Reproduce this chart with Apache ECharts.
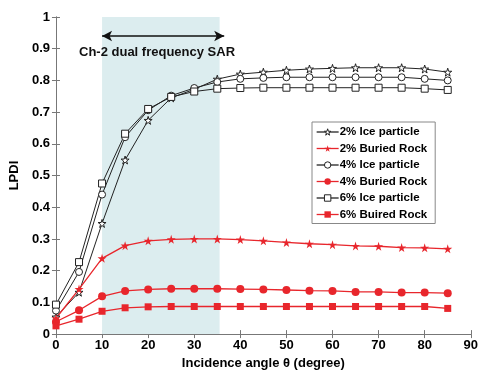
<!DOCTYPE html>
<html><head><meta charset="utf-8">
<script src="https://cdn.jsdelivr.net/npm/echarts@6/dist/echarts.min.js"></script>
<style>html,body{margin:0;padding:0;background:#fff}#c{width:481px;height:375px}</style>
</head><body><div id="c"></div>
<script>
const angles = [0,5,10,15,20,25,30,35,40,45,50,55,60,65,70,75,80,85];
const ice2 = [0.054,0.132,0.349,0.549,0.674,0.745,0.772,0.804,0.82,0.826,0.832,0.836,0.838,0.84,0.84,0.84,0.836,0.826];
const rock2 = [0.05,0.142,0.239,0.279,0.294,0.299,0.30,0.30,0.298,0.294,0.289,0.285,0.282,0.278,0.277,0.273,0.272,0.269];
const ice4 = [0.074,0.196,0.44,0.621,0.706,0.752,0.776,0.795,0.805,0.808,0.81,0.81,0.81,0.81,0.81,0.81,0.805,0.80];
const rock4 = [0.039,0.075,0.119,0.136,0.141,0.143,0.143,0.143,0.142,0.141,0.139,0.137,0.136,0.133,0.133,0.131,0.131,0.129];
const ice6 = [0.093,0.227,0.475,0.632,0.71,0.748,0.765,0.774,0.776,0.777,0.777,0.777,0.777,0.777,0.777,0.777,0.774,0.77];
const rock6 = [0.026,0.047,0.072,0.083,0.086,0.087,0.087,0.087,0.087,0.087,0.087,0.087,0.087,0.087,0.087,0.087,0.087,0.081];
const seriesNames = ['2% Ice particle','2% Buried Rock','4% Ice particle','4% Buried Rock','6% Ice particle','6% Buired Rock'];
const bandRange = [10, 35.5];
const arrowRange = [10, 36.5];
const arrowY = 0.94;
const annotation = 'Ch-2 dual frequency SAR';

const STAR = 'path://M50,0 L61,35 L98,35 L68,57 L79,91 L50,70 L21,91 L32,57 L2,35 L39,35 Z';
const RED = '#e8262c';
const BLK = '#222';
const pairs = a => angles.map((x,i)=>[x,a[i]]);
const openStyle = {color:'#fff',borderColor:BLK,borderWidth:1};
const redStyle = {color:RED,borderColor:RED,borderWidth:0};

function ice(name, arr, symbol, size){
  return {name, type:'line', data:pairs(arr), symbol, symbolSize:size,
    lineStyle:{color:BLK,width:1}, itemStyle:openStyle, z:3};
}
function rock(name, arr, symbol, size){
  return {name, type:'line', data:pairs(arr), symbol, symbolSize:size,
    lineStyle:{color:RED,width:1.3}, itemStyle:redStyle, z:3};
}
const font = {fontFamily:'Liberation Sans, Arial, sans-serif', fontWeight:'bold', color:'#000'};
const chart = echarts.init(document.getElementById('c'), null, {renderer:'canvas'});
const series = [
  ice(seriesNames[0], ice2, STAR, 8),
  rock(seriesNames[1], rock2, STAR, 9),
  ice(seriesNames[2], ice4, 'circle', 7),
  rock(seriesNames[3], rock4, 'circle', 8),
  ice(seriesNames[4], ice6, 'rect', 7),
  rock(seriesNames[5], rock6, 'rect', 7)
];
series[0].markArea = {silent:true, itemStyle:{color:'#dcedef'}, data:[[{xAxis:bandRange[0]},{xAxis:bandRange[1]}]]};
series[0].markLine = {silent:true, symbol:['arrow','arrow'], symbolSize:[8,10], label:{show:false},
  lineStyle:{color:'#111',width:1.5,type:'solid'},
  data:[[{coord:[arrowRange[0],arrowY]},{coord:[arrowRange[1],arrowY]}]]};
chart.setOption({
  animation:false,
  backgroundColor:'#fff',
  grid:{left:53,right:3,top:17,bottom:35},
  legend:{orient:'vertical', left:312, top:122, width:125,
    data:seriesNames.map((n,i)=>({name:n,
      itemStyle: i%2===0 ? openStyle : redStyle,
      lineStyle: {color: i%2===0 ? BLK : RED, width: 1.3}})),
    backgroundColor:'#fff', borderColor:'#888', borderWidth:1, padding:[4,8,3,4],
    itemWidth:22, itemHeight:8, itemGap:4.5,
    textStyle:Object.assign({fontSize:11.5, padding:[0,0,0,-4]}, font)},
  graphic:[{type:'text', left:79, top:46, z:10,
    style:{text:annotation, fontSize:13, fontWeight:'bold', fontFamily:'Liberation Sans, Arial, sans-serif', fill:'#111'}}],
  xAxis:[{type:'value', min:0, max:90, interval:10,
    name:'Incidence angle θ (degree)', nameLocation:'middle', nameGap:21,
    nameTextStyle:Object.assign({fontSize:13}, font),
    axisLine:{lineStyle:{color:'#777'}}, axisTick:{inside:true,length:4,lineStyle:{color:'#777'}},
    axisLabel:Object.assign({fontSize:13, margin:5}, font), splitLine:{show:false}},
    {type:'value', min:0, max:90, interval:10, position:'top',
    axisLine:{show:true,lineStyle:{color:'#777'}}, axisTick:{inside:true,length:4,lineStyle:{color:'#777'}},
    axisLabel:{show:false}, splitLine:{show:false}}],
  yAxis:[{type:'value', min:0, max:1, interval:0.1,
    name:'LPDI', nameLocation:'middle', nameGap:27, nameRotate:90,
    nameTextStyle:Object.assign({fontSize:13}, font),
    axisLine:{show:true,lineStyle:{color:'#777'}}, axisTick:{show:true,inside:true,length:4,lineStyle:{color:'#777'}},
    axisLabel:Object.assign({fontSize:13, margin:6}, font), splitLine:{show:false}},
    {type:'value', min:0, max:1, interval:0.1, position:'right',
    axisLine:{show:true,lineStyle:{color:'#777'}}, axisTick:{show:true,inside:true,length:4,lineStyle:{color:'#777'}},
    axisLabel:{show:false}, splitLine:{show:false}}],
  series
});
</script></body></html>
